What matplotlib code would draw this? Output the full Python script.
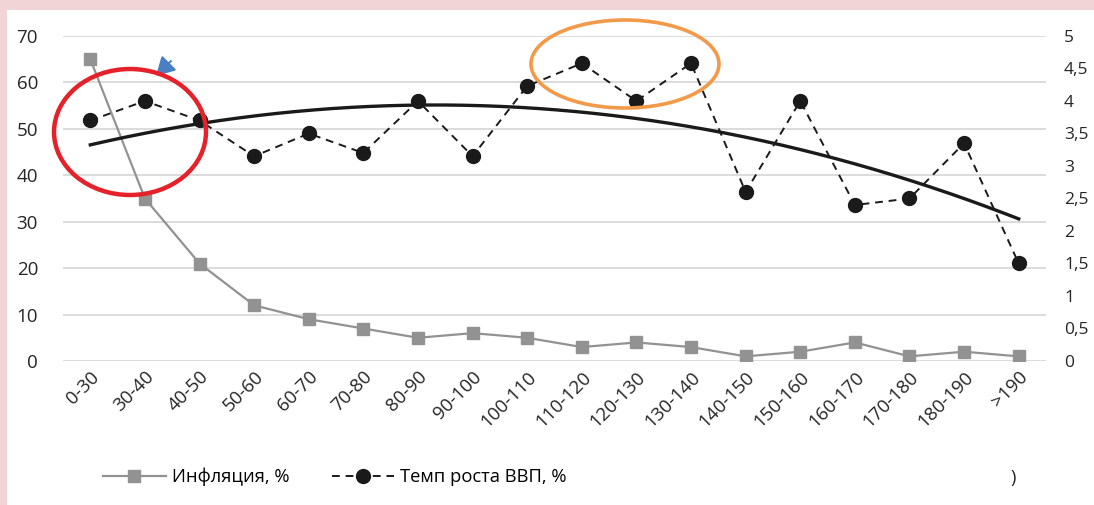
import matplotlib.pyplot as plt
import numpy as np
from matplotlib.patches import Ellipse, Rectangle
from matplotlib.lines import Line2D

plt.rcParams['font.family'] = ['Open Sans', 'DejaVu Sans']

# категории (уровень госдолга, % ВВП)
categories = ['0-30', '30-40', '40-50', '50-60', '60-70', '70-80', '80-90', '90-100',
              '100-110', '110-120', '120-130', '130-140', '140-150', '150-160',
              '160-170', '170-180', '180-190', '>190']
inflation = [65, 35, 21, 12, 9, 7, 5, 6, 5, 3, 4, 3, 1, 2, 4, 1, 2, 1]
gdp_growth = [3.7, 4.0, 3.7, 3.15, 3.5, 3.2, 4.0, 3.15, 4.23, 4.58, 4.0, 4.58,
              2.6, 4.0, 2.4, 2.5, 3.35, 1.5]
left_ticks = [0, 10, 20, 30, 40, 50, 60, 70]
right_ticks = [0, 0.5, 1, 1.5, 2, 2.5, 3, 3.5, 4, 4.5, 5]

W, H = 1094, 505
fig = plt.figure(figsize=(W / 100, H / 100), dpi=100)
fig.patch.set_facecolor('#f0d4d6')
# белая подложка
fig.patches.append(Rectangle((7 / W, 0), 1, 1 - 10 / H, transform=fig.transFigure,
                             facecolor='white', edgecolor='none', zorder=-5))

ax = fig.add_axes([63 / W, 1 - 361 / H, (1046 - 63) / W, (361 - 36) / H])
ax.set_facecolor('none')
ax2 = ax.twinx()

x = np.arange(len(categories))

# сетка
for t in left_ticks:
    ax.axhline(t, color='#d9d9d9', lw=1.3, zorder=0)

ax.plot(x, inflation, color='#929292', lw=1.6, marker='s', ms=9,
        mfc='#929292', mec='#929292', zorder=3)

ax2.plot(x, gdp_growth, color='#1a1a1a', lw=1.4, ls=(0, (4, 3)), marker='o', ms=10,
         mfc='#1a1a1a', mec='#1a1a1a', zorder=3)

# полиномиальный тренд (2-я степень)
coef = np.polyfit(x, gdp_growth, 2)
xs = np.linspace(0, len(categories) - 1, 200)
ax2.plot(xs, np.polyval(coef, xs), color='#1a1a1a', lw=2.4, zorder=4)

ax.set_xlim(-0.5, len(categories) - 0.5)
ax.set_ylim(0, 70)
ax2.set_ylim(0, 5)
ax.set_yticks(left_ticks)
ax2.set_yticks(right_ticks)
ax2.set_yticklabels([('%g' % v).replace('.', ',') for v in right_ticks])
ax.set_xticks(x)
ax.set_xticklabels(categories, rotation=45, ha='right', rotation_mode='anchor')

for a in (ax, ax2):
    for s in a.spines.values():
        s.set_visible(False)
    a.tick_params(length=0, labelsize=13.5, colors='#262626')
ax.tick_params(axis='y', pad=18)
ax2.tick_params(axis='y', pad=13, labelsize=12.5)
ax.tick_params(axis='x', pad=5)

# выделения
fig.patches.append(Ellipse((130 / W, 1 - 132 / H), 152 / W, 126 / H, transform=fig.transFigure,
                           fill=False, edgecolor='#e5212a', lw=3.2, zorder=10))
fig.patches.append(Ellipse((625 / W, 1 - 64 / H), 188 / W, 88 / H, transform=fig.transFigure,
                           fill=False, edgecolor='#f29a4a', lw=2.6, zorder=10))
ax.annotate('', xy=(156, H - 76), xycoords='figure pixels',
            xytext=(171, H - 61), textcoords='figure pixels',
            arrowprops=dict(arrowstyle='-|>,head_length=0.8,head_width=0.45',
                            color='#4a7fc4', lw=1.5, mutation_scale=14,
                            shrinkA=0, shrinkB=0))

handles = [
    Line2D([], [], color='#929292', lw=1.6, marker='s', ms=9),
    Line2D([], [], color='#1a1a1a', lw=1.4, ls=(0, (4, 3)), marker='o', ms=10),
]
fig.legend(handles, ['Инфляция, %', 'Темп роста ВВП, %'], loc='center',
           bbox_to_anchor=(335 / W, 1 - 477 / H), ncol=2, frameon=False,
           fontsize=13.2, handlelength=3.4, columnspacing=2.3, handletextpad=0.35)
fig.text(1013 / W, 1 - 478 / H, ')', fontsize=13.2, ha='center', va='center', color='#262626')

fig.savefig('out.png', dpi=100, facecolor=fig.get_facecolor())
